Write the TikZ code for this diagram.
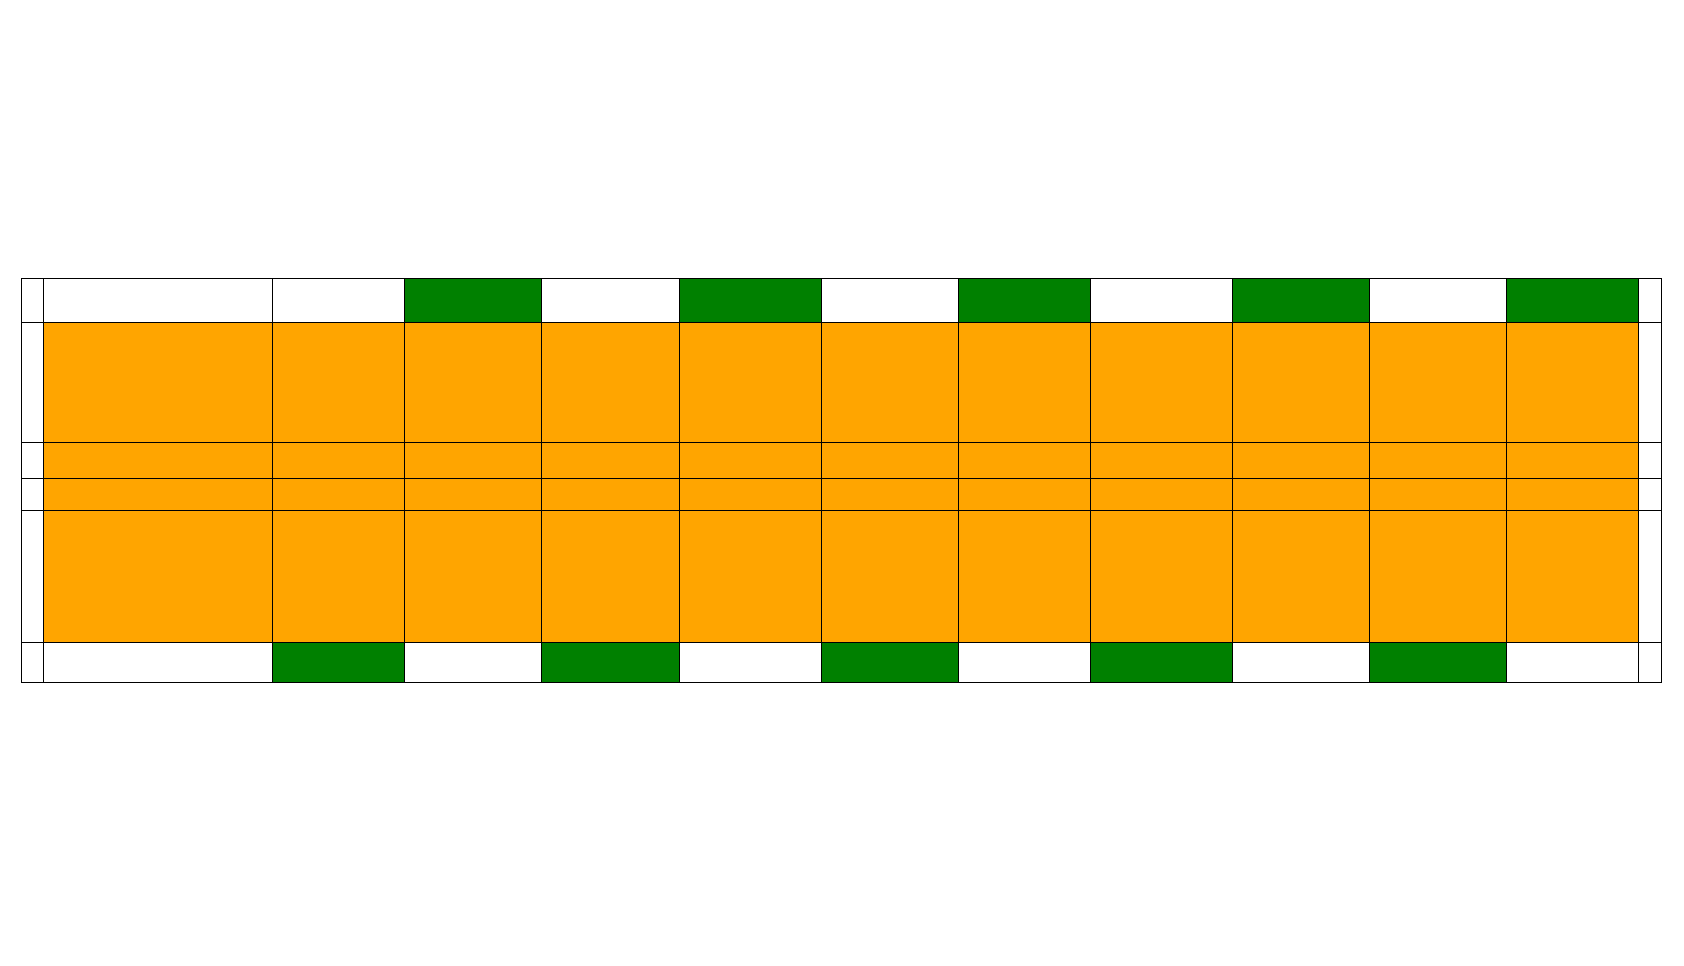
\documentclass[tikz,border=0pt]{standalone}
\definecolor{corange}{RGB}{255,165,0}
\definecolor{cgreen}{RGB}{0,128,0}
\tikzset{stripplan/.style={x=1pt,y=-1pt,line width=1pt}}

\begin{document}
\begin{tikzpicture}[stripplan]
    \useasboundingbox (0,0) rectangle (1684,966);
    \def\xl{21.5}\def\xr{1661.3}\def\yt{278.3}\def\yb{682.7}
    \fill[corange] (43.3,322.7) rectangle (1638.7,642.3); % orange body
    \foreach \a/\b in {404.5/541.5,679.5/821.5,958.5/1090,1232.5/1369.5,1506.7/1638.7}
      \fill[cgreen] (\a,\yt) rectangle (\b,322.7); % top green cells
    \foreach \a/\b in {272.3/404.5,541.5/679.5,821.5/958.5,1090/1232.5,1369.5/1506.7}
      \fill[cgreen] (\a,642.3) rectangle (\b,\yb); % bottom green cells
    \foreach \y in {\yt,322.7,442.7,478.3,510.7,642.3,\yb}
      \draw (\xl,\y) -- (\xr,\y); % row lines
    \foreach \x in {\xl,43.3,272.3,404.5,541.5,679.5,821.5,958.5,1090,1232.5,1369.5,1506.7,1638.7,\xr}
      \draw (\x,\yt) -- (\x,\yb); % column lines
\end{tikzpicture}
\end{document}
